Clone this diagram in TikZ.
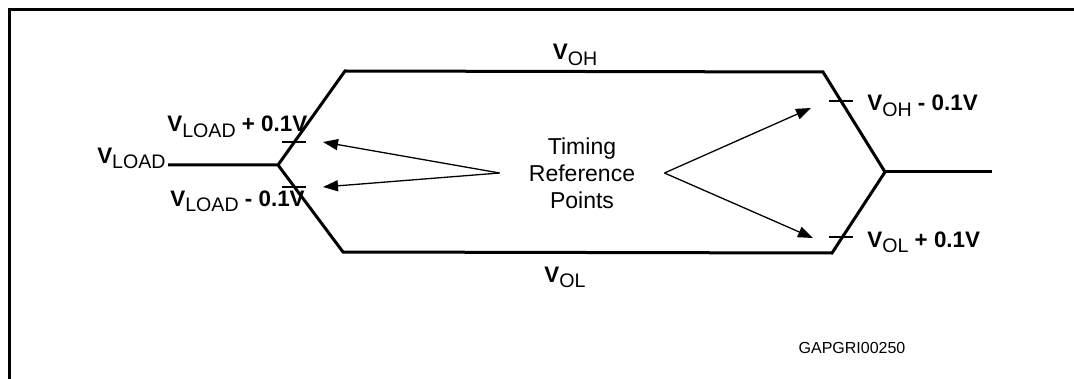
\documentclass[tikz,border=0pt]{standalone}
\usepackage{fontspec}
\setmainfont{Liberation Sans}
\usetikzlibrary{arrows.meta, calc}

\newcommand{\sigv}[1]{{\bfseries V}\raisebox{-2.7pt}{\mdseries\fontsize{9.8}{11}\selectfont #1}}

\begin{document}
\begin{tikzpicture}[
  x=0.5pt, y=-0.5pt,
  every node/.style={inner sep=0pt, font=\fontsize{11}{13}\selectfont},
  wave/.style={line width=1.5pt, line join=miter},
  frame/.style={line width=1.5pt},
  tickm/.style={line width=0.7pt},
  arr/.style={-{Triangle[length=7.5pt, width=5.5pt]}, line width=0.65pt},
  lvl/.style={anchor=base west, font=\fontsize{11.2}{13}\selectfont\bfseries},
]

\useasboundingbox (0,0) rectangle (1074,379);

%% frame
\draw[frame] (9,379) -- (9,10) -- (1074,10);

%% waveform corners
\coordinate (lin)   at (168,165);
\coordinate (ljoin) at (278,165);
\coordinate (ltop)  at (345,71);
\coordinate (rtop)  at (823,72);
\coordinate (rjoin) at (885,172);
\coordinate (rbot)  at (832,253);
\coordinate (lbot)  at (343,252);
\coordinate (rout)  at (992,172);

\draw[wave] (lin) -- (ljoin) -- (ltop) -- (rtop) -- (rjoin) -- (rbot)
  -- (lbot) -- (ljoin);
\draw[wave] (rjoin) -- (rout);

%% reference ticks on the edges
\coordinate (tlu) at (294,142);
\coordinate (tld) at (294,187);
\coordinate (tru) at (841,101);
\coordinate (trd) at (841,237);
\foreach \t in {tlu,tld,tru,trd}
  \draw[tickm] ($(\t)+(-12,0)$) -- ($(\t)+(12,0)$);

%% level labels
\node[anchor=base east, font=\fontsize{11.2}{13}\selectfont] (vload)
  at (166,163) {\sigv{LOAD}};
\node[lvl] (vloadp) at (167,132) {\sigv{LOAD} + 0.1V};
\node[lvl] (vloadm) at (170,206) {\sigv{LOAD} - 0.1V};
\node[lvl] (vohm)   at (867,111) {\sigv{OH} - 0.1V};
\node[lvl] (volp)   at (867,247) {\sigv{OL} + 0.1V};
\node[anchor=base, font=\fontsize{11.2}{13}\selectfont] (voh)
  at (575,60)  {\sigv{OH}};
\node[anchor=base, font=\fontsize{11.2}{13}\selectfont] (vol)
  at (565,282) {\sigv{OL}};

%% timing reference points
\node[align=center, inner xsep=14.5pt,
  font=\fontsize{11.5}{13.5}\selectfont] (trp) at (582,173)
  {Timing\\Reference\\Points};

\coordinate (plu) at (323,142);
\coordinate (pld) at (323,187);
\coordinate (pru) at (811,108);
\coordinate (prd) at (813,238);
\draw[arr] (trp.west) -- (plu);
\draw[arr] (trp.west) -- (pld);
\draw[arr] (trp.east) -- (pru);
\draw[arr] (trp.east) -- (prd);

%% drawing id
\node[anchor=base, font=\fontsize{8}{10}\selectfont] (gid) at (852,353)
  {GAPGRI00250};

\end{tikzpicture}
\end{document}
